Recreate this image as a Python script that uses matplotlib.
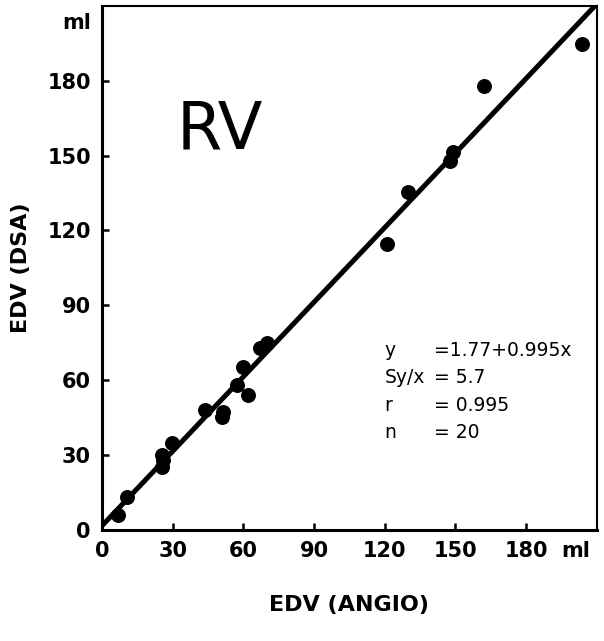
import matplotlib.pyplot as plt
import numpy as np

# EDV by angiography (x) vs EDV by DSA (y), ml
edv_angio = [6.8, 10.6, 25.5, 25.5, 29.7, 43.7, 51.3, 50.9, 57.3, 59.8,
             62.0, 67.0, 70.0, 120.9, 129.8, 147.6, 148.9, 162.0, 203.6, 26.0]
edv_dsa = [6.0, 13.3, 25.3, 30.1, 34.9, 48.2, 47.4, 45.4, 58.2, 65.5,
           54.2, 73.1, 75.1, 114.5, 135.3, 147.8, 151.4, 178.0, 194.8, 28.0]

ticks = [0, 30, 60, 90, 120, 150, 180]
tick_labels = ['0', '30', '60', '90', '120', '150', '180']
intercept = 1.77
slope = 0.995

stats_labels = ['y', 'Sy/x', 'r', 'n']
stats_values = ['=1.77+0.995x', '= 5.7', '= 0.995', '= 20']

plt.rcParams['font.family'] = ['DejaVu Sans']

fig = plt.figure(figsize=(6.04, 6.41), dpi=100)
ax = fig.add_axes([0.169, 0.173, 0.819, 0.818])

x_line = np.array([0, 212])
ax.plot(x_line, intercept + slope * x_line, color='black', lw=3.6,
        solid_capstyle='butt', zorder=3)
ax.scatter(edv_angio, edv_dsa, s=95, color='black', zorder=4, clip_on=False)

ax.set_xlim(0, 210)
ax.set_ylim(0, 210)
# extra tick position carries the unit label, its tick mark is hidden
ax.set_xticks(ticks + [201], tick_labels + ['ml'])
ax.set_yticks(ticks + [204], tick_labels + ['ml'])
ax.tick_params(direction='in', length=5, width=1.8, labelsize=15, pad=8)
for lbl in ax.get_xticklabels() + ax.get_yticklabels():
    lbl.set_fontweight('bold')
ax.xaxis.get_major_ticks()[-1].tick1line.set_visible(False)
ax.yaxis.get_major_ticks()[-1].tick1line.set_visible(False)

for side in ['left', 'bottom']:
    ax.spines[side].set_linewidth(2.2)
for side in ['top', 'right']:
    ax.spines[side].set_linewidth(1.5)

ax.set_xlabel('EDV (ANGIO)', fontsize=16, fontweight='bold', labelpad=24)
ax.set_ylabel('EDV (DSA)', fontsize=16, fontweight='bold', labelpad=12)

ax.text(50, 160, 'RV', ha='center', va='center', fontsize=47)

for i, (lab, val) in enumerate(zip(stats_labels, stats_values)):
    yy = 72 - i * 11
    ax.text(120, yy, lab, ha='left', va='center', fontsize=13.5)
    ax.text(141, yy, val, ha='left', va='center', fontsize=13.5)

fig.savefig('out.png', dpi=100)
